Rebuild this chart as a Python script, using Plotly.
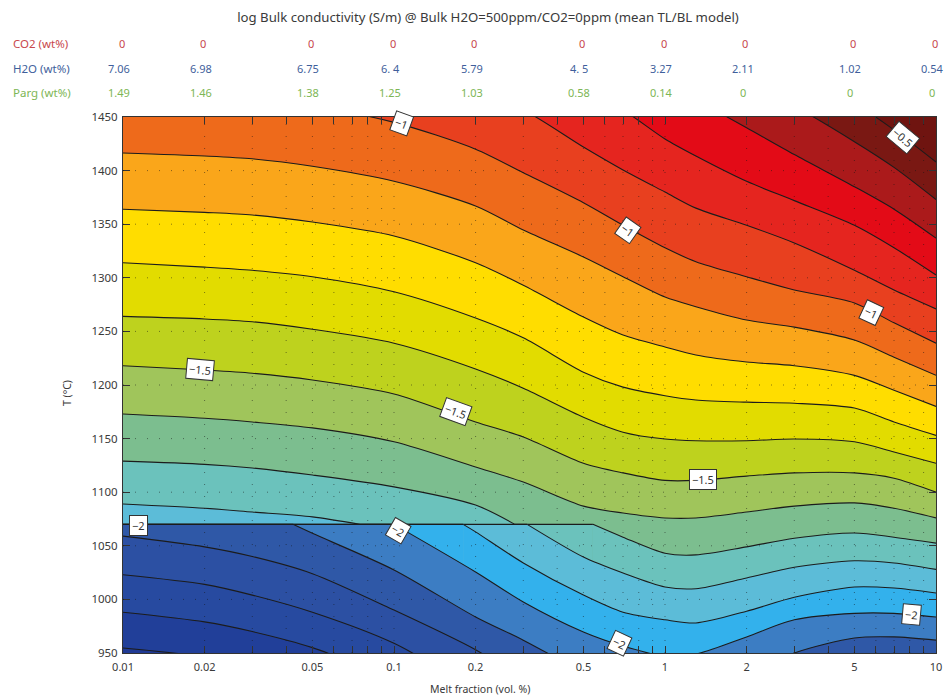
import numpy as np
import plotly.graph_objects as go

# ---------- data ----------
melt_ticks = [0.01, 0.02, 0.05, 0.1, 0.2, 0.5, 1, 2, 5, 10]
co2_wt = ["0", "0", "0", "0", "0", "0", "0", "0", "0", "0"]
h2o_wt = ["7.06", "6.98", "6.75", "6. 4", "5.79", "4. 5", "3.27", "2.11", "1.02", "0.54"]
parg_wt = ["1.49", "1.46", "1.38", "1.25", "1.03", "0.58", "0.14", "0", "0", "0"]
minor_melt = [0.01, 0.02, 0.03, 0.04, 0.05, 0.06, 0.07, 0.08, 0.09, 0.1,
              0.2, 0.3, 0.4, 0.5, 0.6, 0.7, 0.8, 0.9, 1,
              2, 3, 4, 5, 6, 7, 8, 9, 10]
temp_ticks = [950, 1000, 1050, 1100, 1150, 1200, 1250, 1300, 1350, 1400, 1450]

# isotherm-like contour lines: temperature (deg C) of each level at each melt fraction
melt = [0.01, 0.02, 0.03, 0.05, 0.1, 0.2, 0.3, 0.5, 0.7, 1, 1.3, 2, 3, 5, 7, 10]
T_m05 = [1522, 1522, 1522, 1522, 1522, 1522, 1522, 1520, 1517, 1515, 1508, 1498.5, 1480, 1462, 1438, 1408]
T_m06 = [1522, 1522, 1522, 1522, 1522, 1522, 1522, 1520, 1517, 1508, 1498, 1480, 1460, 1427, 1403, 1373]
T_m07 = [1517, 1517, 1517, 1517, 1517, 1517, 1517, 1508, 1496, 1481, 1466, 1440, 1415, 1385, 1364, 1337]
T_m08 = [1503, 1503, 1503, 1503, 1503, 1503, 1492, 1475, 1456.5, 1429.5, 1413.6, 1390, 1372, 1349, 1328, 1302.6]
T_m09 = [1494, 1494, 1494, 1492, 1486, 1472, 1456.5, 1422, 1400.6, 1380, 1365, 1349, 1332.5, 1307, 1288.6, 1271]
T_m10 = [1470.5, 1468.7, 1466, 1460, 1445, 1420, 1398, 1370, 1349, 1328, 1315, 1301, 1288.6, 1276.5, 1258, 1239]
T_m11 = [1416.4, 1413.6, 1411, 1404, 1390, 1367, 1344.6, 1319.4, 1301, 1282, 1273, 1260.6, 1254, 1242, 1226, 1209]
T_m12 = [1364, 1361, 1358.6, 1352, 1339, 1314, 1293, 1263.4, 1246.6, 1235.5, 1228, 1221.5, 1218, 1209, 1195, 1180]
T_m13 = [1314, 1310, 1307, 1301, 1287, 1262.5, 1244, 1212, 1198, 1190, 1186, 1184, 1183, 1178.5, 1165.5, 1153]
T_m14 = [1264, 1261.6, 1259, 1252, 1239, 1215, 1197, 1170, 1156, 1149.6, 1148, 1148, 1149.6, 1147, 1137.5, 1127]
T_m15 = [1218, 1214, 1211, 1204.7, 1191.6, 1165.5, 1151.5, 1127, 1118, 1111, 1111, 1115, 1118, 1118, 1113, 1100]
T_m16 = [1173, 1169, 1165.5, 1160, 1147, 1123.5, 1109.5, 1087, 1080.6, 1076, 1076, 1081.5, 1087, 1090, 1085, 1076]

step_T = 1070  # the discontinuity
step_end_melt = 0.542

m17_upper_x = [0.01, 0.02, 0.03, 0.05, 0.1, 0.2, 0.2795]
m17_upper_T = [1129, 1126, 1122.6, 1116, 1105, 1088, 1070]
m17_lower_x = [0.542, 0.7, 1, 1.3, 2, 3, 5, 7, 10]
m17_lower_T = [1070, 1058, 1043, 1041.5, 1049, 1057, 1062, 1058, 1052.5]

m18_upper_x = [0.01, 0.02, 0.03, 0.05, 0.0749]
m18_upper_T = [1089, 1085, 1081.5, 1077, 1070]
m18_lower_x = [0.31, 0.5, 0.7, 1, 1.3, 2, 3, 5, 7, 10]
m18_lower_T = [1070, 1039.5, 1024.6, 1011.6, 1010, 1020, 1030, 1036, 1034, 1028]

m19_lower_x = [0.18, 0.2, 0.3, 0.5, 0.7, 1, 1.3, 2, 3, 5, 7, 10]
m19_lower_T = [1070, 1063, 1034, 1004, 988, 981, 978, 989, 1002, 1011.6, 1010.6, 1006]

m20_lower_x = [0.1, 0.2, 0.3, 0.5, 0.7, 1, 1.3, 2, 3, 5, 7, 10]
m20_lower_T = [1070, 1025.6, 997.6, 969.6, 956.5, 947, 949, 965, 981, 987, 987, 983.6]

m21_lower_x = [0.0424, 0.05, 0.1, 0.2, 0.3, 0.5, 0.7, 1, 1.3, 2, 3, 5, 7, 10]
m21_lower_T = [1070, 1061.6, 1027.5, 983.6, 962, 932, 915.5, 906, 911, 929.5, 950, 964, 965, 962]

m22_x = [0.01, 0.02, 0.03, 0.05, 0.1, 0.2, 0.3, 0.5, 1, 2, 5, 10]
m22_T = [1059, 1049, 1040, 1024, 990, 953, 925, 887.5, 850, 887, 915, 915]
m23_x = [0.01, 0.02, 0.03, 0.05, 0.1, 0.2]
m23_T = [1023, 1014, 1004, 988, 959, 915]
m24_x = [0.01, 0.02, 0.03, 0.05, 0.1]
m24_T = [988, 979, 970, 955, 925]
m25_x = [0.01, 0.02, 0.03]
m25_T = [954.7, 946, 934]

label_text = ["\u22121", "\u22121", "\u22121", "\u22120.5", "\u22121.5", "\u22121.5", "\u22121.5",
              "\u22122", "\u22122", "\u22122", "\u22122"]
label_melt = [0.107, 0.73, 5.76, 7.55, 0.0192, 0.169, 1.38, 0.0114, 0.1035, 8.15, 0.682]
label_T = [1443.5, 1343.7, 1268, 1431, 1214, 1175.7, 1111.4, 1068.5, 1064.7, 986, 959]
label_angle = [20, 35, 25, 40, 5, 20, 0, 0, 30, 5, 25]

# ---------- styles ----------
TXT = "#3a3a3a"
FONT = "Noto Sans"
LINE = "#1c1c1c"
c = dict(top="#6F1410", m05="#7A1813", m06="#AB1A1B", m07="#E30B17", m08="#E5251F", m09="#E8401F",
         m10="#EE6A1B", m11="#FAA61A", m12="#FFDD00", m13="#E2DC00", m14="#BED21E", m15="#A0C55B",
         m16="#7CBE8F", m17="#6BC2BC", m18="#5CBCD8", m19="#33B1EC", m20="#3C7DC3", m21="#2F58A7",
         m22="#2C50A3", m23="#274AA0", m24="#213F99", m25="#203A94")

fig = go.Figure()


def band(x, y, color, smooth=True):
    fig.add_trace(go.Scatter(
        x=x, y=y, mode="lines", fill="tozeroy", fillcolor=color, showlegend=False, hoverinfo="skip",
        line=dict(color=LINE, width=1.1, shape="spline" if smooth else "linear", smoothing=0.8)))


for name, T in [("m05", T_m05), ("m06", T_m06), ("m07", T_m07), ("m08", T_m08), ("m09", T_m09),
                ("m10", T_m10), ("m11", T_m11), ("m12", T_m12), ("m13", T_m13), ("m14", T_m14),
                ("m15", T_m15), ("m16", T_m16)]:
    band(melt, T, c[name])

# levels that run into the discontinuity at 1070 deg C
band(m17_upper_x, m17_upper_T, c["m17"])
band([m17_upper_x[-1], step_end_melt], [step_T, step_T], c["m17"], smooth=False)
band(m17_lower_x, m17_lower_T, c["m17"])

band(m18_upper_x, m18_upper_T, c["m18"])
band([m18_upper_x[-1], m18_lower_x[0]], [step_T, step_T], c["m18"], smooth=False)
band(m18_lower_x, m18_lower_T, c["m18"])

band([0.01, m19_lower_x[0]], [step_T, step_T], c["m19"], smooth=False)
band(m19_lower_x, m19_lower_T, c["m19"])

band([0.01, m20_lower_x[0]], [step_T, step_T], c["m20"], smooth=False)
band(m20_lower_x, m20_lower_T, c["m20"])

band([0.01, m21_lower_x[0]], [step_T, step_T], c["m21"], smooth=False)
band(m21_lower_x, m21_lower_T, c["m21"])

band(m22_x, m22_T, c["m22"])
band(m23_x, m23_T, c["m23"])
band(m24_x, m24_T, c["m24"])
band(m25_x, m25_T, c["m25"])

# dotted grid sits above the colour bands, so it is drawn as shapes
DOT = dict(color="rgba(20,20,20,0.5)", width=1, dash="1px,11px")
shapes = [dict(type="line", xref="x", yref="y domain", x0=v, x1=v, y0=0, y1=1, line=DOT, layer="above")
          for v in minor_melt[1:-1]]
shapes += [dict(type="line", xref="x domain", yref="y", x0=0, x1=1, y0=v, y1=v, line=DOT, layer="above")
           for v in temp_ticks[1:-1]]

ann = []
for txt, mf, t, a in zip(label_text, label_melt, label_T, label_angle):
    ann.append(dict(x=float(np.log10(mf)), y=t, xref="x", yref="y", text=txt, showarrow=False, textangle=a,
                    bgcolor="white", bordercolor="#333", borderwidth=1, borderpad=2,
                    font=dict(family=FONT, size=11, color="#333")))

rows = [("CO2 (wt%)", co2_wt, "#C8474C", 1.138, -1.5),
        ("H2O (wt%)", h2o_wt, "#3F5F9C", 1.0914, -4),
        ("Parg (wt%)", parg_wt, "#7DB655", 1.0448, -4)]
for head, vals, col, y, shift in rows:
    ann.append(dict(x=(11 - 123) / 813, y=y, xref="paper", yref="paper", xanchor="left", yanchor="middle", text=head,
                    showarrow=False, font=dict(family=FONT, size=11.5, color=col)))
    for mf, v in zip(melt_ticks, vals):
        ann.append(dict(x=float(np.log10(mf)), y=y, xref="x", yref="paper", xanchor="center", yanchor="middle",
                        text=v, showarrow=False, xshift=shift, font=dict(family=FONT, size=11, color=col)))

ann.append(dict(x=(480 - 123) / 813, y=(653 - 689) / 536, xref="paper", yref="paper", text="Melt fraction (vol. %)",
                xanchor="center", yanchor="middle", showarrow=False, font=dict(family=FONT, size=10.5, color=TXT)))
ann.append(dict(x=(67 - 123) / 813, y=(653 - 393) / 536, xref="paper", yref="paper", text="T (\u00b0C)", textangle=-90,
                xanchor="center", yanchor="middle", showarrow=False, font=dict(family=FONT, size=10.5, color=TXT)))

fig.update_layout(
    width=944, height=697, margin=dict(l=123, r=8, t=117, b=44, autoexpand=False),
    paper_bgcolor="white", plot_bgcolor=c["top"], showlegend=False,
    title=dict(text="log Bulk conductivity (S/m) @ Bulk H2O=500ppm/CO2=0ppm (mean TL/BL model)",
               x=488 / 944, y=1 - 17 / 697, xanchor="center", yanchor="middle",
               font=dict(family=FONT, size=13.2, color=TXT)),
    xaxis=dict(type="log", range=[-2, 1], showgrid=False, zeroline=False, tickmode="array",
               tickvals=minor_melt,
               ticktext=[str(v) if v in melt_ticks else "" for v in minor_melt],
               ticks="inside", ticklen=7, tickwidth=1, tickcolor="#333", showline=True, linecolor="#333",
               linewidth=1, mirror="allticks", ticklabelstandoff=4, tickfont=dict(family=FONT, size=11, color=TXT)),
    yaxis=dict(range=[950, 1450], showgrid=False, zeroline=False, tickmode="array", tickvals=temp_ticks,
               ticks="inside", ticklen=7, tickwidth=1, tickcolor="#333", showline=True, linecolor="#333",
               linewidth=1, mirror="allticks", ticklabelstandoff=2, tickfont=dict(family=FONT, size=11.5, color=TXT)),
    shapes=shapes, annotations=ann,
)

fig.write_html("out.html", config={"displayModeBar": False},
               post_script="document.body.style.margin='0';document.documentElement.style.overflow='hidden';")
